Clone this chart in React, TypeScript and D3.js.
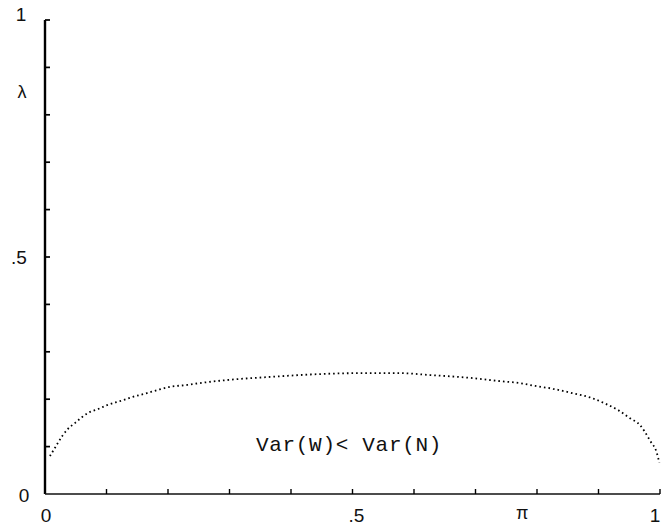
import React from "react";
import * as d3 from "d3";

const W = 661;
const H = 527;

// Curve: pi (x) vs lambda (y)
const piValues = [0.008, 0.016, 0.021, 0.029, 0.037, 0.049, 0.06, 0.07, 0.086, 0.102, 0.122, 0.143, 0.166, 0.182, 0.203, 0.231, 0.252, 0.301, 0.366, 0.447, 0.512, 0.577, 0.626, 0.691, 0.74, 0.772, 0.797, 0.826, 0.857, 0.888, 0.912, 0.932, 0.951, 0.967, 0.975, 0.984, 0.994, 0.999];
const lambdaValues = [0.08, 0.097, 0.108, 0.124, 0.137, 0.15, 0.162, 0.171, 0.179, 0.188, 0.196, 0.205, 0.213, 0.219, 0.226, 0.23, 0.234, 0.241, 0.247, 0.253, 0.255, 0.255, 0.251, 0.245, 0.238, 0.234, 0.228, 0.222, 0.213, 0.203, 0.19, 0.177, 0.16, 0.146, 0.132, 0.112, 0.09, 0.066];

const tickValues = [0.1, 0.2, 0.3, 0.4, 0.5, 0.6, 0.7, 0.8, 0.9, 1.0];
const xLabels = ["0", ".5", "1"];
const xLabelValues = [0, 0.5, 1];
const yLabels = ["0", ".5", "1"];
const yLabelValues = [0, 0.5, 1];
const xAxisName = "π";
const yAxisName = "λ";
const xAxisNamePos = 0.776;
const yAxisNamePos = 0.848;
const annotation = "Var(W)< Var(N)";

export default function App() {
  const x = d3.scaleLinear().domain([0, 1]).range([45, 660]);
  const y = d3.scaleLinear().domain([0, 1]).range([494, 20]);

  const pts: [number, number][] = piValues.map((p, i) => [p, lambdaValues[i]]);
  const line = d3
    .line<[number, number]>()
    .x((d) => x(d[0]))
    .y((d) => y(d[1]))
    .curve(d3.curveMonotoneX);

  const numFont = "'Liberation Sans', Arial, sans-serif";
  const yLabelDx = [-21, -26, -24];
  const yLabelDy = [1, 0, -6];
  const xLabelDx = [1, 4, -5];

  return (
    <svg
      width={W}
      height={H}
      style={{ position: "absolute", left: 0, top: 0, background: "#fff" }}
    >
      {/* y axis */}
      <line x1={x(0)} x2={x(0)} y1={y(1)} y2={y(0)} stroke="#000" strokeWidth={2.4} />
      {tickValues.map((t) => (
        <line key={"yt" + t} x1={x(0)} x2={x(0) + 5} y1={y(t)} y2={y(t)} stroke="#000" strokeWidth={1.7} />
      ))}
      {/* x axis */}
      <line x1={x(0)} x2={x(1)} y1={y(0)} y2={y(0)} stroke="#111" strokeWidth={1.5} />
      {tickValues.map((t) => (
        <line key={"xt" + t} x1={x(t)} x2={x(t)} y1={y(0)} y2={y(0) - 5} stroke="#000" strokeWidth={1.4} />
      ))}
      {/* y labels */}
      {yLabels.map((t, i) => (
        <text
          key={"yl" + t}
          x={x(0) + yLabelDx[i]}
          y={y(yLabelValues[i]) + yLabelDy[i]}
          textAnchor="middle"
          dominantBaseline="central"
          fontFamily={numFont}
          fontSize={19}
          fill="#111"
        >
          {t}
        </text>
      ))}
      <text
        x={x(0) - 23}
        y={y(yAxisNamePos)}
        textAnchor="middle"
        dominantBaseline="central"
        fontFamily={numFont}
        fontSize={18}
        fill="#111"
      >
        {yAxisName}
      </text>
      {/* x labels */}
      {xLabels.map((t, i) => (
        <text
          key={"xl" + t}
          x={x(xLabelValues[i]) + xLabelDx[i]}
          y={y(0) + 21}
          textAnchor="middle"
          dominantBaseline="central"
          fontFamily={numFont}
          fontSize={19}
          fill="#111"
        >
          {t}
        </text>
      ))}
      <text
        x={x(xAxisNamePos)}
        y={y(0) + 19}
        textAnchor="middle"
        dominantBaseline="central"
        fontFamily={numFont}
        fontSize={18}
        fill="#111"
      >
        {xAxisName}
      </text>
      {/* curve */}
      <path
        d={line(pts) || ""}
        fill="none"
        stroke="#000"
        strokeWidth={1.8}
        strokeDasharray="1.6 3"
      />
      {/* annotation */}
      <text
        x={349}
        y={445}
        textAnchor="middle"
        dominantBaseline="central"
        fontFamily="'Liberation Mono', 'Courier New', monospace"
        fontSize={21}
        letterSpacing={0.7}
        fill="#111"
      >
        {annotation}
      </text>
    </svg>
  );
}
